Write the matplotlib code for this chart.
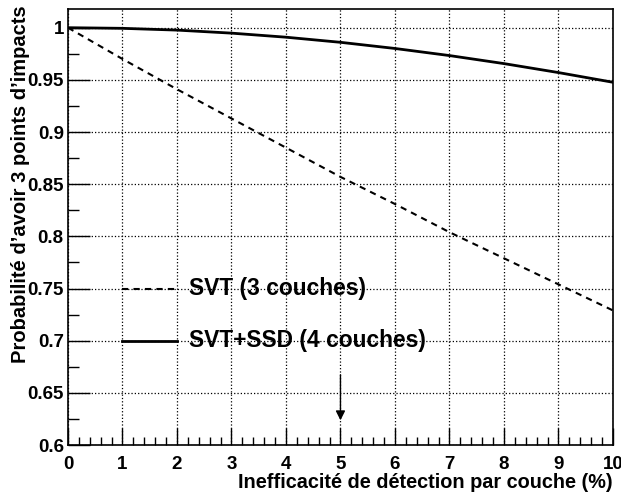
import matplotlib
matplotlib.use("Agg")
import matplotlib.pyplot as plt
from matplotlib.ticker import MultipleLocator

plt.rcParams['font.family'] = ['Liberation Sans', 'DejaVu Sans']
plt.rcParams['font.weight'] = 'bold'

# inefficiency per layer (%) and probabilities
ineff = [0, 1, 2, 3, 4, 5, 6, 7, 8, 9, 10]
svt_3 = [1.0, 0.970, 0.941, 0.913, 0.885, 0.857, 0.831, 0.804, 0.779, 0.754, 0.729]
svt_ssd_4 = [1.0, 0.9994, 0.9977, 0.9948, 0.9909, 0.9860, 0.9801, 0.9733, 0.9656, 0.9570, 0.9477]

fig = plt.figure(figsize=(6.21, 4.96), dpi=100)
ax = fig.add_axes([0.1095, 0.1028, 0.8775, 0.8792])

ax.plot(ineff, svt_3, color='black', lw=1.5, ls=(0, (3, 2.5)))
ax.plot(ineff, svt_ssd_4, color='black', lw=2)

# legend drawn by hand, like the original
ax.plot([1, 2], [0.75, 0.75], color='black', lw=1.5, ls=(0, (3, 2.5)))
ax.plot([1, 2], [0.70, 0.70], color='black', lw=2)
ax.text(2.22, 0.75, "SVT (3 couches)", fontsize=16.4, fontweight='bold', va='center')
ax.text(2.22, 0.70, "SVT+SSD (4 couches)", fontsize=16.4, fontweight='bold', va='center')

# arrow at 5 %
ax.annotate("", xy=(5, 0.621), xytext=(5, 0.670),
            arrowprops=dict(arrowstyle='-|>', color='black', lw=1, mutation_scale=14))

ax.set_xlim(0, 10)
ax.set_ylim(0.6, 1.018)
ax.xaxis.set_major_locator(MultipleLocator(1))
ax.xaxis.set_minor_locator(MultipleLocator(0.2))
ax.yaxis.set_minor_locator(MultipleLocator(0.025))
ax.set_yticks([0.6, 0.65, 0.7, 0.75, 0.8, 0.85, 0.9, 0.95, 1.0])
ax.set_yticklabels(["0.6", "0.65", "0.7", "0.75", "0.8", "0.85", "0.9", "0.95", "1"])

ax.tick_params(axis='x', which='major', direction='in', length=12, width=1, labelsize=13.5, pad=8)
ax.tick_params(axis='x', which='minor', direction='in', length=6, width=1)
ax.tick_params(axis='y', which='major', direction='in', length=16, width=1, labelsize=13.5, pad=3)
ax.tick_params(axis='y', which='minor', direction='in', length=8, width=1)
for lab in ax.get_xticklabels() + ax.get_yticklabels():
    lab.set_fontweight('bold')

ax.grid(True, which='major', color='black', ls=':', lw=0.9)
for s in ax.spines.values():
    s.set_linewidth(1.2)

fig.text(613 / 621, 1 - 483 / 496, "Inefficacité de détection par couche (%)",
         fontsize=14.3, fontweight='bold', ha='right', va='center')
fig.text(21 / 621, 1 - 5 / 496, "Probabilité d’avoir 3 points d’impacts",
         fontsize=14.5, fontweight='bold', ha='center', va='top', rotation=90)

fig.savefig("out.png", dpi=100)
